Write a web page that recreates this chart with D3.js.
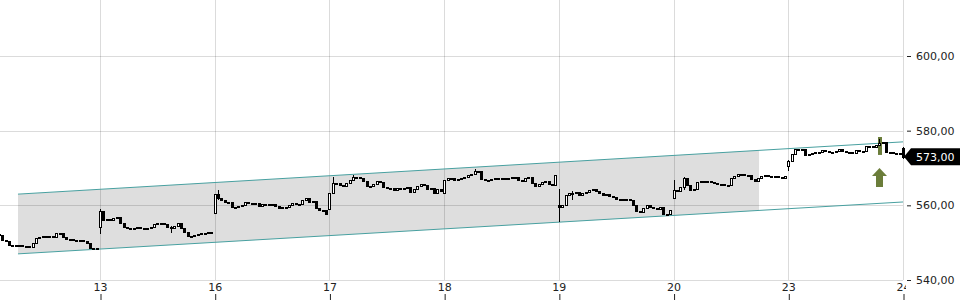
<!DOCTYPE html>
<html>
<head>
<meta charset="utf-8">
<script src="https://cdn.jsdelivr.net/npm/d3@7"></script>
<style>
  body { margin: 0; background: #fff; }
  text { font-family: "DejaVu Sans", sans-serif; font-size: 11px; }
</style>
</head>
<body>
<div id="chart"></div>
<script>
// trading days shown on the x axis (12 is only partly visible)
const days = ['12', '13', '16', '17', '18', '19', '20', '23', '24'];
const slotsPerDay = 34;

// first price of each day, then the closes of the 15 min candles
const dayOpens = [552.0, 554.2, 557.9, 558.9, 563.4, 560.0, 562.0, 570.5, 575.3];

const closes12 = [551.8, 552.2, 551.9, 552.3, 552.0, 550.8, 550.4, 549.5, 549.3, 549.2, 549.3, 549.2,
  549.0, 548.8, 549.9, 551.2, 551.5, 551.8, 551.7, 551.8, 551.6, 552.6, 552.5, 551.4, 551.0, 550.9,
  550.8, 550.5, 550.6, 550.4, 549.8, 548.6, 548.7, 548.6];
const closes13 = [558.5, 556.1, 556.4, 556.0, 556.6, 556.9, 555.2, 554.2, 553.9, 554.0, 553.9, 554.2,
  553.9, 554.0, 554.0, 554.3, 554.9, 555.4, 555.3, 555.0, 554.2, 553.9, 554.4, 555.4, 554.0, 552.8,
  551.8, 551.8, 552.1, 552.3, 552.6, 552.6, 552.9, 552.6];
const closes16 = [563.0, 562.0, 561.4, 560.9, 560.8, 559.5, 559.6, 559.7, 560.2, 560.8, 560.6, 560.4,
  560.6, 559.9, 560.4, 560.4, 560.3, 560.3, 559.9, 559.4, 559.5, 559.6, 560.2, 560.6, 560.4, 560.4,
  561.4, 561.9, 561.0, 561.1, 559.2, 558.8, 558.7, 557.6];
const closes17 = [563.3, 565.9, 566.0, 565.5, 565.3, 565.9, 566.8, 567.6, 567.6, 567.2, 566.5, 565.3,
  565.1, 565.8, 566.4, 566.3, 565.0, 564.6, 564.6, 564.1, 564.6, 564.6, 564.7, 564.8, 563.7, 564.4,
  565.3, 565.8, 565.4, 564.4, 564.6, 563.4, 564.4, 563.8];
const closes18 = [566.8, 567.3, 567.4, 566.9, 567.0, 567.2, 567.6, 568.0, 568.3, 569.2, 569.3, 567.0,
  566.8, 566.7, 567.0, 567.2, 567.2, 567.0, 567.2, 567.4, 567.6, 567.5, 566.8, 566.5, 567.2, 567.7,
  566.0, 565.3, 565.8, 566.2, 566.6, 565.6, 565.5, 568.1];
const closes19 = [559.6, 560.0, 562.7, 563.4, 563.2, 563.5, 562.9, 563.2, 563.5, 564.2, 564.3, 563.8,
  563.2, 562.9, 563.0, 562.4, 562.2, 561.8, 561.6, 561.7, 561.8, 561.3, 560.0, 558.6, 558.1, 559.2,
  560.2, 559.6, 559.2, 559.0, 559.5, 557.6, 557.6, 558.8];
const closes20 = [564.1, 563.8, 564.9, 567.2, 565.4, 564.1, 564.3, 566.3, 566.5, 566.5, 566.6, 566.2,
  566.1, 565.8, 565.6, 565.4, 565.5, 567.4, 567.9, 568.3, 568.4, 568.1, 568.0, 567.0, 566.4, 567.4,
  567.8, 568.1, 567.8, 567.6, 567.8, 567.5, 567.4, 567.8];
const closes23 = [572.0, 573.8, 575.0, 575.2, 575.0, 573.6, 573.8, 574.0, 574.2, 574.2, 574.9, 574.5,
  574.4, 574.3, 574.6, 575.0, 574.5, 574.3, 574.3, 574.0, 574.7, 574.6, 574.6, 575.8, 575.8, 575.6,
  576.1, 576.6, 576.9, 574.4, 574.3, 574.0, 573.9, 573.9];
const closes24 = [573.0];

const dayCloses = [closes12, closes13, closes16, closes17, closes18, closes19, closes20, closes23, closes24];

// visible shadows: [day, slot, high, low]
const wicks = [
  ['13', 0, 559.0, 552.7], ['13', 21, 554.4, 552.9], ['16', 1, 564.0, 561.8],
  ['17', 1, 567.7, 563.3], ['17', 7, 568.0, 567.0], ['18', 9, 569.7, 568.3],
  ['19', 0, 564.3, 555.7], ['19', 4, 563.8, 561.6], ['20', 0, 566.8, 562.0],
  ['20', 3, 567.7, 564.3], ['23', 0, 572.2, 569.5], ['23', 27, 577.7, 576.1],
  ['24', 0, 575.6, 572.6]
];

const priceTicks = [540, 560, 580, 600];
const dayTicks = [1, 2, 3, 4, 5, 6, 7, 8];

// trend channel (t = day index, 12 = 0)
const channelStart = { t: 0.285, upper: 563.0, lower: 547.0 };
const channelEnd = { t: 8, upper: 577.0, lower: 560.9 };
const channelFillEnd = 6.745;

const signal = { day: '23', slot: 27, high: 578.3, low: 573.5 };

const width = 960, height = 300;
const plotRight = 903;

const x = d3.scaleLinear().domain([1, 8]).range([100, plotRight]);
const y = d3.scaleLinear().domain([540, 600]).range([280, 56]);
const fmt = d3.formatLocale({ decimal: ',', thousands: '.', grouping: [3], currency: ['', ' €'] }).format('.2f');

// build candles
const candles = [];
dayCloses.forEach((closes, d) => {
  let prev = dayOpens[d];
  closes.forEach((c, i) => {
    candles.push({ day: days[d], slot: i, t: d + i / slotsPerDay, open: prev, close: c,
      high: Math.max(prev, c), low: Math.min(prev, c) });
    prev = c;
  });
});
wicks.forEach(([day, slot, hi, lo]) => {
  const c = candles.find(k => k.day === day && k.slot === slot);
  if (c) { c.high = Math.max(c.high, hi); c.low = Math.min(c.low, lo); }
});
const tOf = (day, slot) => days.indexOf(day) + slot / slotsPerDay;

const svg = d3.select('#chart').append('svg')
  .attr('width', width)
  .attr('height', height);

const defs = svg.append('defs');
defs.append('clipPath').attr('id', 'plotClip')
  .append('rect').attr('x', 0).attr('y', 0).attr('width', plotRight + 5).attr('height', height);
defs.append('clipPath').attr('id', 'labelClip')
  .append('rect').attr('x', 0).attr('y', 0).attr('width', plotRight + 3).attr('height', height);

// channel fill
const lerp = (a, b, t) => a + (b - a) * (t - channelStart.t) / (channelEnd.t - channelStart.t);
const fillPts = [
  [channelStart.t, channelStart.upper],
  [channelFillEnd, lerp(channelStart.upper, channelEnd.upper, channelFillEnd)],
  [channelFillEnd, lerp(channelStart.lower, channelEnd.lower, channelFillEnd)],
  [channelStart.t, channelStart.lower]
];
svg.append('path')
  .attr('d', d3.line().x(d => x(d[0])).y(d => y(d[1]))(fillPts) + 'Z')
  .attr('fill', '#dedede');

// grid
const grid = svg.append('g').attr('class', 'grid').attr('shape-rendering', 'crispEdges');
grid.selectAll('.hline')
  .data(priceTicks)
  .join('line')
    .attr('x1', 0).attr('x2', plotRight)
    .attr('y1', d => Math.round(y(d)) + 0.5).attr('y2', d => Math.round(y(d)) + 0.5)
    .attr('stroke', 'rgba(0,0,0,0.14)');
grid.selectAll('.vline')
  .data(dayTicks)
  .join('line')
    .attr('x1', d => Math.round(x(d)) + 0.5).attr('x2', d => Math.round(x(d)) + 0.5)
    .attr('y1', 0).attr('y2', 280)
    .attr('stroke', 'rgba(0,0,0,0.14)');

// channel lines
['upper', 'lower'].forEach(k => {
  svg.append('line')
    .attr('x1', x(channelStart.t)).attr('y1', y(channelStart[k]))
    .attr('x2', x(channelEnd.t)).attr('y2', y(channelEnd[k]))
    .attr('stroke', '#48a0a0')
    .attr('stroke-width', 1);
});

const plot = svg.append('g').attr('clip-path', 'url(#plotClip)');

// signal bar
const sx = Math.round(x(tOf(signal.day, signal.slot)));
plot.append('rect')
  .attr('x', sx - 1).attr('width', 4)
  .attr('y', y(signal.high)).attr('height', y(signal.low) - y(signal.high))
  .attr('fill', '#6b7d3a');

// candles
const cg = plot.append('g').attr('shape-rendering', 'crispEdges');
const cand = cg.selectAll('g.candle')
  .data(candles)
  .join('g')
    .attr('class', 'candle');
cand.append('line')
  .attr('x1', d => Math.round(x(d.t)) + 0.5).attr('x2', d => Math.round(x(d.t)) + 0.5)
  .attr('y1', d => Math.round(y(d.high))).attr('y2', d => Math.round(y(d.low)) + 1)
  .attr('stroke', '#000');
cand.append('rect')
  .attr('x', d => Math.round(x(d.t)) - 0.5)
  .attr('width', 2)
  .attr('y', d => Math.round(y(Math.max(d.open, d.close))) + 0.5)
  .attr('height', d => Math.max(1, Math.round(y(Math.min(d.open, d.close))) - Math.round(y(Math.max(d.open, d.close)))))
  .attr('fill', d => d.close >= d.open ? '#fff' : '#000')
  .attr('stroke', '#000');

// signal arrow
const tipY = y(signal.low) + 13;
svg.append('path')
  .attr('d', `M${sx + 0.5},${tipY} l7.5,8 h-4 v11 h-7 v-11 h-4 Z`)
  .attr('fill', '#6b7d3a');

// y axis
const yAxis = svg.append('g')
  .attr('transform', `translate(${plotRight + 4},0)`)
  .call(d3.axisRight(y).tickValues(priceTicks).tickSize(4).tickPadding(5).tickFormat(fmt));
yAxis.select('.domain').remove();
yAxis.selectAll('line').attr('stroke', '#222');
yAxis.selectAll('text').attr('fill', '#222').style('font-size', '11px').attr('font-family', 'DejaVu Sans');

// x axis
const xAxis = svg.append('g')
  .attr('transform', 'translate(0,280)')
  .attr('clip-path', 'url(#labelClip)')
  .call(d3.axisBottom(x).tickValues(dayTicks).tickSize(0).tickPadding(3).tickFormat(d => days[d]));
xAxis.select('.domain').remove();
xAxis.selectAll('text').attr('fill', '#222').style('font-size', '11px').attr('font-family', 'DejaVu Sans');
xAxis.selectAll('.tick').append('line')
  .attr('x1', 0.5).attr('x2', 0.5)
  .attr('y1', 14).attr('y2', 20)
  .attr('stroke', '#222');

// last price tag
const lastPrice = closes24[closes24.length - 1];
const ly = y(lastPrice);
svg.append('path')
  .attr('d', `M${plotRight + 1},${ly} L${plotRight + 8},${ly - 8.5} H${width} V${ly + 8.5} H${plotRight + 8} Z`)
  .attr('fill', '#000');
svg.append('text')
  .attr('x', plotRight + 13)
  .attr('y', ly)
  .attr('dy', '0.35em')
  .attr('fill', '#fff')
  .text(fmt(lastPrice));
</script>
</body>
</html>
